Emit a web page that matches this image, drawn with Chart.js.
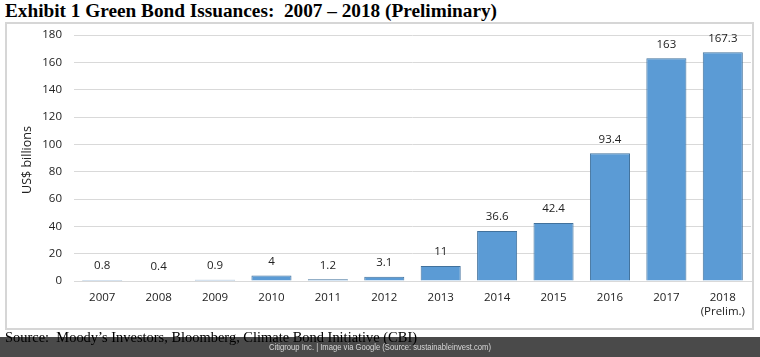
<!DOCTYPE html>
<html>
<head>
<meta charset="utf-8">
<script src="https://cdn.jsdelivr.net/npm/chart.js@4.4.1/dist/chart.umd.min.js"></script>
<style>
  html, body { margin:0; padding:0; background:#fff; width:760px; height:357px; overflow:hidden; }
  #title { position:absolute; left:5px; top:1px; font-family:"Liberation Serif","DejaVu Serif",serif; font-weight:bold; font-size:18px; color:#000; white-space:nowrap; transform-origin:0 0; }
  #box { position:absolute; left:5px; top:22px; width:745px; height:304px; border:2px solid #d6d6d6; background:#fff; }
  #wrap { position:absolute; left:0; top:0; width:760px; height:357px; }
  #footer { position:absolute; left:0; top:337px; width:760px; height:20px; background:#4a4a4a; }
  #footText { position:absolute; left:380px; top:342px; font-family:"Liberation Sans",Arial,sans-serif; font-size:9px; color:#d8d8d8; white-space:nowrap; transform-origin:0 0; }
  #source { position:absolute; left:5px; top:329px; font-family:"Liberation Serif","DejaVu Serif",serif; font-size:15px; color:#000; white-space:nowrap; transform-origin:0 0; }
</style>
</head>
<body>
<div id="title">Exhibit 1 Green Bond Issuances:&nbsp; 2007 – 2018 (Preliminary)</div>
<div id="box"></div>
<div id="footer"></div>
<div id="wrap"><canvas id="c" width="760" height="357"></canvas></div>
<div id="source">Source:&nbsp; Moody’s Investors, Bloomberg, Climate Bond Initiative (CBI)</div>
<div id="footText">Citigroup Inc. | Image via Google (Source: sustainableinvest.com)</div>
<script>
const categories = [["2007"],["2008"],["2009"],["2010"],["2011"],["2012"],["2013"],["2014"],["2015"],["2016"],["2017"],["2018","(Prelim.)"]];
const issuance = [0.8, 0.4, 0.9, 4, 1.2, 3.1, 11, 36.6, 42.4, 93.4, 163, 167.3];
const valueLabels = ["0.8","0.4","0.9","4","1.2","3.1","11","36.6","42.4","93.4","163","167.3"];
const yTicks = [0,20,40,60,80,100,120,140,160,180];

function fitWidth(id, targetW, centered) {
  const el = document.getElementById(id);
  const w = el.getBoundingClientRect().width;
  const s = targetW / w;
  el.style.transform = 'scaleX(' + s + ')';
  if (centered) {
    el.style.left = (380 - targetW/2) + 'px';
  }
}
fitWidth('title', 492, false);
fitWidth('source', 412, false);
fitWidth('footText', 222, true);

const FONT = '"Open Sans", "Noto Sans", sans-serif';

const labelPlugin = {
  id: 'valLabels',
  afterDatasetsDraw(chart) {
    const ctx = chart.ctx;
    const meta = chart.getDatasetMeta(0);
    ctx.save();
    ctx.font = '11.5px ' + FONT;
    ctx.fillStyle = '#222';
    ctx.textAlign = 'center';
    ctx.textBaseline = 'middle';
    meta.data.forEach((bar, i) => {
      ctx.fillText(valueLabels[i], bar.x, bar.y - 14);
    });
    ctx.restore();
  }
};

const yTitlePlugin = {
  id: 'yTitle',
  afterDraw(chart) {
    const ctx = chart.ctx;
    const a = chart.chartArea;
    ctx.save();
    ctx.translate(27, (a.top + a.bottom) / 2 + 2);
    ctx.rotate(-Math.PI / 2);
    ctx.font = '12.5px ' + FONT;
    ctx.fillStyle = '#222';
    ctx.textAlign = 'center';
    ctx.textBaseline = 'middle';
    ctx.fillText('US$ billions', 0, 0);
    ctx.restore();
  }
};

new Chart(document.getElementById('c'), {
  type: 'bar',
  data: {
    labels: categories,
    datasets: [{
      data: issuance,
      backgroundColor: '#5b9bd5',
      borderColor: '#41719c',
      borderWidth: 1,
      barPercentage: 0.71,
      categoryPercentage: 1.0
    }]
  },
  options: {
    responsive: false,
    animation: false,
    layout: { padding: { top: 35, right: 9, left: 0, bottom: 0 } },
    plugins: { legend: { display: false }, tooltip: { enabled: false } },
    scales: {
      x: {
        grid: { display: false, drawTicks: false },
        border: { display: true, color: '#d9d9d9', width: 1 },
        ticks: { color: '#222', font: { family: FONT, size: 11.5 }, padding: 10, maxRotation: 0, autoSkip: false },
        afterFit(scale) { scale.height = 76; }
      },
      y: {
        min: 0, max: 180,
        afterBuildTicks(scale) { scale.ticks = yTicks.map(v => ({ value: v })); },
        grid: { color: '#d9d9d9', drawTicks: false },
        border: { display: false },
        ticks: { color: '#222', font: { family: FONT, size: 11.5 }, padding: 12 },
        afterFit(scale) { scale.width = 74; }
      }
    }
  },
  plugins: [labelPlugin, yTitlePlugin]
});
</script>
</body>
</html>
